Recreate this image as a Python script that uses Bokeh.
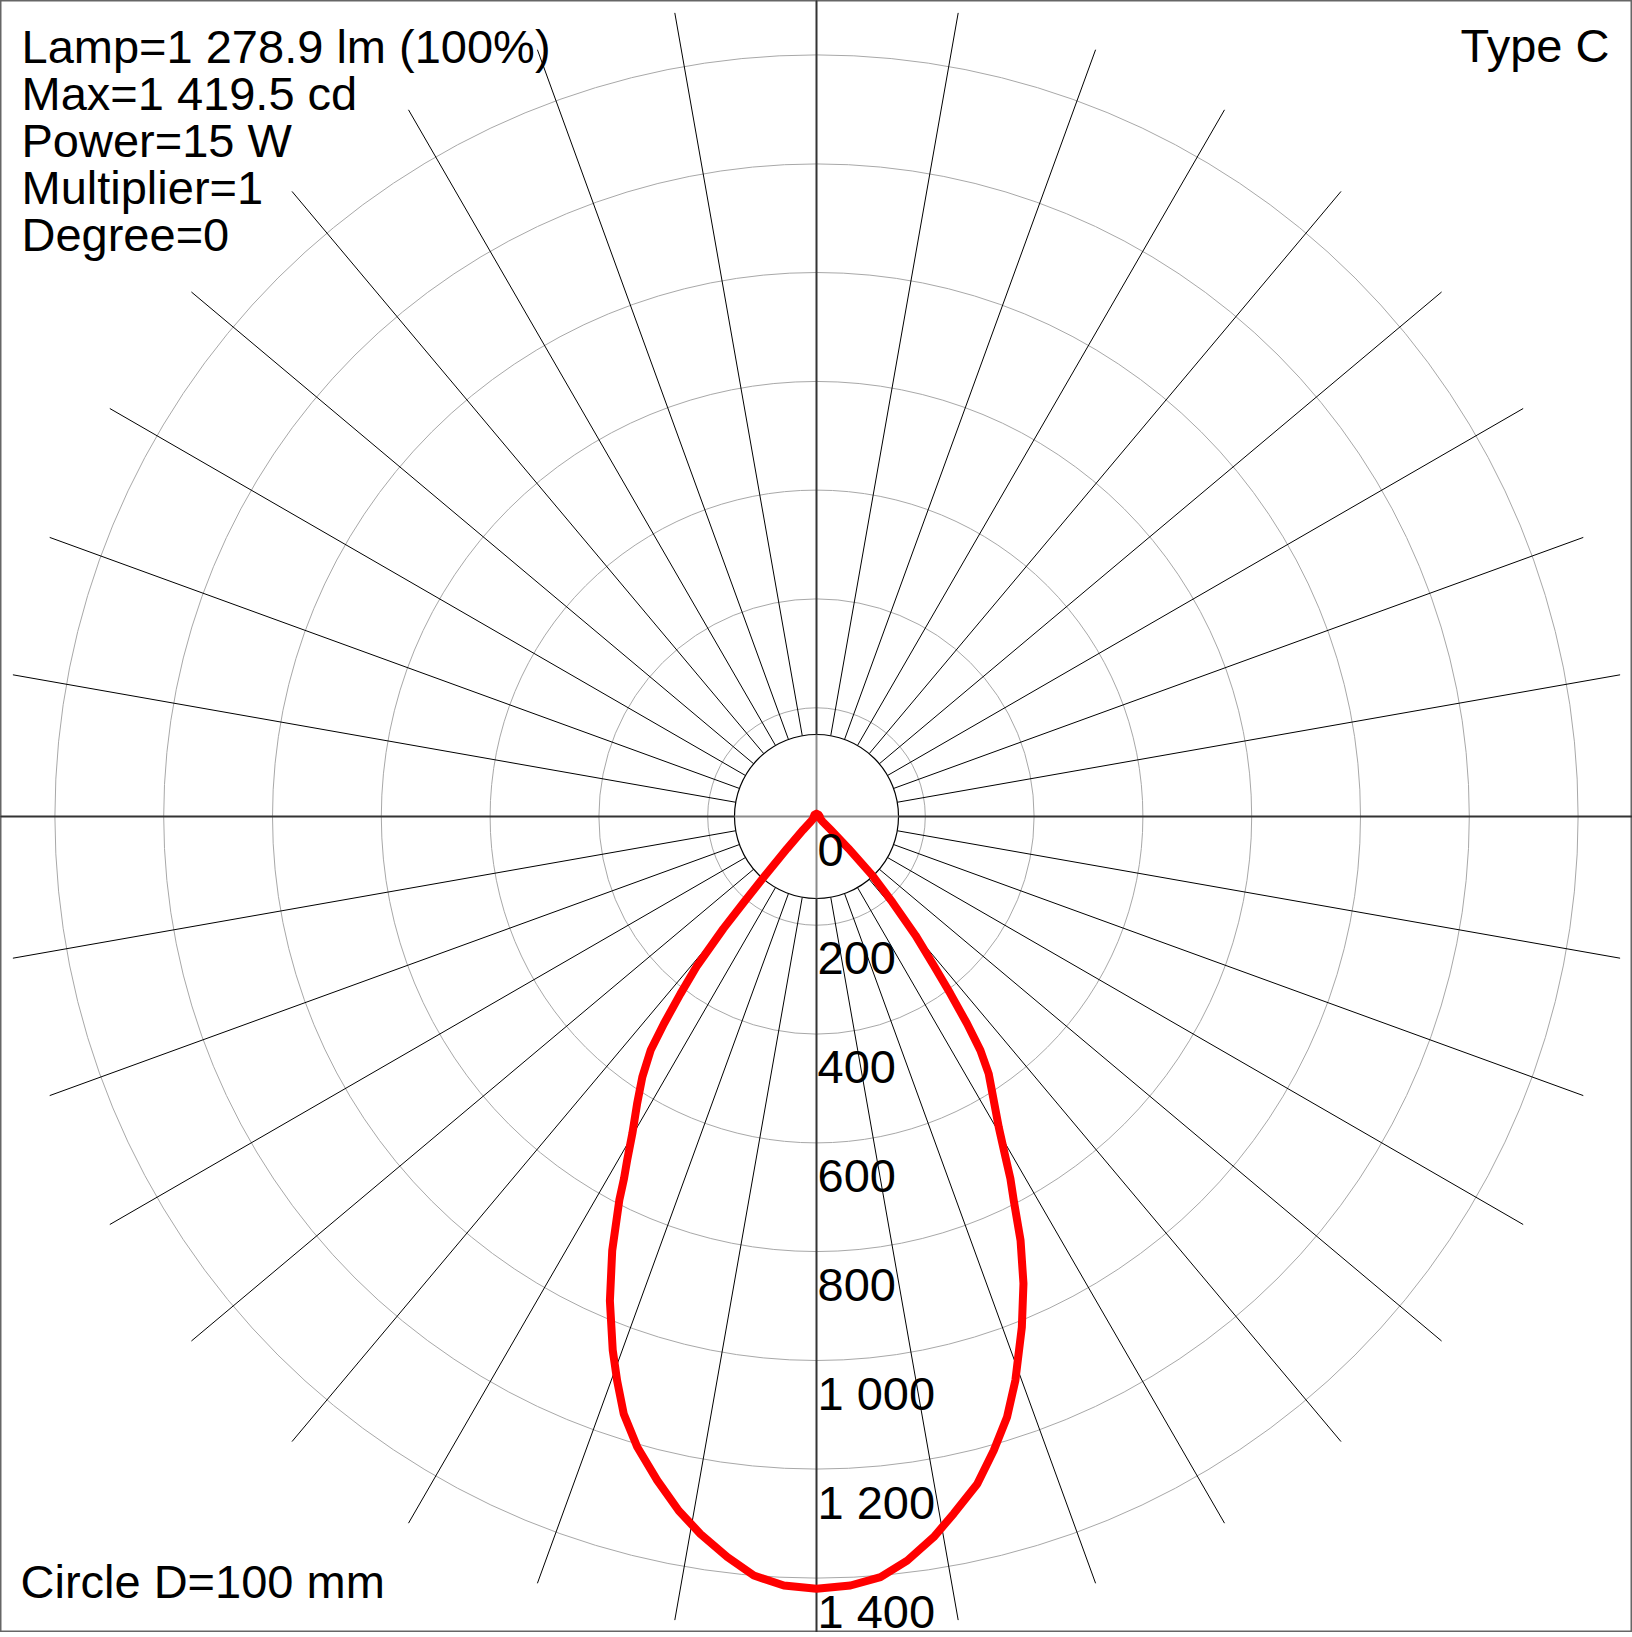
import numpy as np
from bokeh.plotting import figure
from bokeh.models import Range1d
from bokeh.embed import file_html
from bokeh.resources import INLINE
from bokeh.core.properties import value

# ---- data ----
# C0 plane (right half): gamma in degrees from nadir, intensity in cd
c0_gamma = [0, 2.53, 4.81, 6.95, 9.24, 11.14, 13.54, 15.62, 17.61, 19.43, 21.9, 23.9, 25.7,
            27.2, 28.17, 29.02, 30.4, 31.98, 33.8, 35.02, 36.0, 37.08, 38.2, 39.8, 41.5,
            43.5, 45, 47, 50, 60, 90, 135, 180]
c0_cd = [1419.5, 1415, 1403, 1378, 1342, 1306, 1262, 1210, 1158, 1099, 1012, 939, 865,
         793, 755, 716, 662, 615, 569, 525, 471, 408, 349, 284, 211,
         149, 83, 35, 15, 8, 6, 5, 5]
# C180 plane (left half)
c180_gamma = [0, 2.43, 4.72, 6.87, 9.19, 11.22, 13.49, 15.87, 17.88, 19.46, 20.9, 23.1, 25.2,
              27.2, 27.99, 28.83, 30.15, 31.97, 33.77, 35.35, 36.37, 37.49, 38.68, 39.7, 40.3,
              41.0, 42.5, 45, 50, 60, 90, 135, 180]
c180_cd = [1419.5, 1415, 1400, 1371, 1336, 1301, 1255, 1205, 1154, 1100, 1050, 968, 882,
           793, 754, 722, 674, 623, 576, 527, 473, 411, 351, 268, 207,
           148, 80, 35, 12, 6, 5, 5, 5]

ring_values = [200, 400, 600, 800, 1000, 1200, 1400]
tick_values = [0, 200, 400, 600, 800, 1000, 1200, 1400]
tick_labels = ["0", "200", "400", "600", "800", "1 000", "1 200", "1 400"]
info_lines = ["Lamp=1 278.9 lm (100%)", "Max=1 419.5 cd", "Power=15 W", "Multiplier=1", "Degree=0"]
type_label = "Type C"
circle_label = "Circle D=100 mm"

# ---- layout ----
K = 0.544          # px per cd
CX, CY = 816, 816  # centre in page pixels
W, H = 1632, 1632
TS = -18           # text baseline correction

def sx(px):
    return (px - CX) / K

def sy(py):
    return (CY - py) / K

p = figure(width=W, height=H, output_backend="svg", toolbar_location=None,
           x_range=Range1d(sx(0), sx(W)), y_range=Range1d(sy(H), sy(0)),
           x_axis_type=None, y_axis_type=None, min_border=0)
p.grid.visible = False
p.outline_line_color = "#666666"
p.outline_line_width = 2
p.background_fill_color = "white"
p.border_fill_color = "white"

FONT = value("Liberation Sans")

# rings
p.circle(x=[0] * len(ring_values), y=[0] * len(ring_values), radius=ring_values,
         fill_color=None, line_color="#a8a8a8", line_width=1)

# radial lines every 10 degrees
r_in = 82 / K
r_out = 816 / K
angs = np.deg2rad(np.arange(0, 360, 10))
p.segment(x0=r_in * np.cos(angs), y0=r_in * np.sin(angs),
          x1=r_out * np.cos(angs), y1=r_out * np.sin(angs),
          line_color="black", line_width=1)

# inner white circle
p.circle(x=[0], y=[0], radius=[r_in], fill_color="white", line_color="black", line_width=1.2)

# axes
p.segment(x0=[-r_in, 0], y0=[0, -r_in], x1=[r_in, 0], y1=[0, r_in],
          line_color="#8a8a8a", line_width=2)
p.segment(x0=[-r_out, r_in, 0, 0], y0=[0, 0, -r_out, r_in],
          x1=[-r_in, r_out, 0, 0], y1=[0, 0, -r_in, r_out],
          line_color="#333333", line_width=2)

# intensity curve
g180 = np.deg2rad(np.array(c180_gamma))
i180 = np.array(c180_cd)
g0 = np.deg2rad(np.array(c0_gamma))
i0 = np.array(c0_cd)
xl = -i180 * np.sin(g180)
yl = -i180 * np.cos(g180)
xr = i0 * np.sin(g0)
yr = -i0 * np.cos(g0)
cx = np.concatenate([xl[::-1], xr[1:]])
cy = np.concatenate([yl[::-1], yr[1:]])
p.line(cx, cy, line_color="#ff0000", line_width=8, line_join="round", line_cap="round")

# tick labels along the nadir axis
p.text(x=[sx(817)] * len(tick_values),
       y=[sy(CY + v * K + 51 + TS) for v in tick_values],
       text=tick_labels, text_font=FONT, text_font_size="47px",
       text_align="left", text_baseline="alphabetic", text_color="black")

# info text
p.text(x=[sx(21)] * len(info_lines), y=[sy(64 + TS + 47 * i) for i in range(len(info_lines))],
       text=info_lines, text_font=FONT, text_font_size="47px",
       text_align="left", text_baseline="alphabetic", text_color="black")
p.text(x=[sx(1609)], y=[sy(63 + TS)], text=[type_label], text_font=FONT, text_font_size="47px",
       text_align="right", text_baseline="alphabetic", text_color="black")
p.text(x=[sx(20)], y=[sy(1599 + TS)], text=[circle_label], text_font=FONT, text_font_size="47px",
       text_align="left", text_baseline="alphabetic", text_color="black")

open("out.html", "w").write(file_html(p, INLINE))
